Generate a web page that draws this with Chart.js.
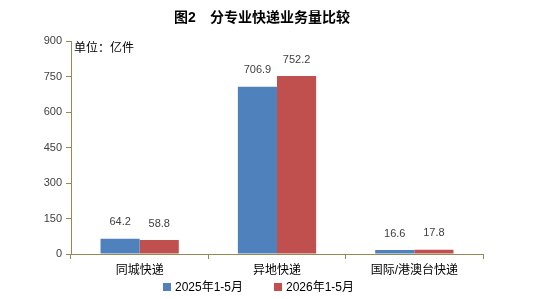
<!DOCTYPE html>
<html>
<head>
<meta charset="utf-8">
<script src="https://cdn.jsdelivr.net/npm/chart.js@4/dist/chart.umd.min.js"></script>
<style>
  html, body { margin: 0; padding: 0; background: #fff; }
  #box { width: 548px; height: 299px; }
</style>
</head>
<body>
<div id="box"><canvas id="grafico"></canvas></div>
<script>
var categorias = ['同城快递', '异地快递', '国际/港澳台快递'];
var serie2025 = [64.2, 706.9, 16.6];
var serie2026 = [58.8, 752.2, 17.8];
var nomes = ['2025年1-5月', '2026年1-5月'];
var cores = ['#4F81BD', '#C0504D'];
var titulo = '图2　分专业快递业务量比较';
var unidade = '单位：亿件';

var fonte = '"Liberation Sans", "Noto Sans CJK SC", sans-serif';
var corEixo = '#948A54';

// titulo, unidade, legenda e valores acima das barras
var rotulos = {
    id: 'rotulos',
    afterDatasetsDraw(chart) {
        var ctx = chart.ctx;
        ctx.save();
        ctx.fillStyle = '#404040';
        ctx.font = '11px ' + fonte;
        ctx.textAlign = 'center';
        ctx.textBaseline = 'bottom';
        chart.data.datasets.forEach((ds, i) => {
            chart.getDatasetMeta(i).data.forEach((bar, j) => {
                ctx.fillText(ds.data[j].toFixed(1), bar.x, bar.y - 11);
            });
        });
        ctx.fillStyle = '#000';
        ctx.font = 'bold 14px ' + fonte;
        ctx.textBaseline = 'middle';
        ctx.fillText(titulo, 262, 18);
        ctx.font = '12px ' + fonte;
        ctx.textAlign = 'left';
        ctx.fillText(unidade, 74, 49);

        // legenda
        var xs = [163, 274];
        nomes.forEach((nome, i) => {
            ctx.fillStyle = cores[i];
            ctx.fillRect(xs[i], 283, 8, 8);
            ctx.fillStyle = '#000';
            ctx.fillText(nome, xs[i] + 12, 288);
        });
        ctx.restore();
    }
};

new Chart(document.querySelector('#grafico'), {
    type: 'bar',
    data: {
        labels: categorias,
        datasets: [
            { label: nomes[0], data: serie2025, backgroundColor: cores[0] },
            { label: nomes[1], data: serie2026, backgroundColor: cores[1] }
        ]
    },
    options: {
        responsive: true,
        maintainAspectRatio: false,
        animation: false,
        layout: { padding: { top: 41, left: 14, right: 65, bottom: 21 } },
        datasets: { bar: { categoryPercentage: 0.57, barPercentage: 1 } },
        plugins: {
            tooltip: { enabled: false },
            legend: { display: false }
        },
        scales: {
            y: {
                min: 0,
                max: 900,
                afterFit(scale) { scale.width = 57; },
                ticks: { stepSize: 150, color: '#404040', font: { size: 11, family: fonte }, padding: 4 },
                grid: { drawOnChartArea: false, tickLength: 5, color: corEixo },
                border: { color: corEixo }
            },
            x: {
                afterFit(scale) { scale.height = 24; },
                ticks: { color: '#000', font: { size: 12, family: fonte }, padding: 4 },
                grid: { drawOnChartArea: false, tickLength: 5, color: corEixo, offset: true },
                border: { color: corEixo }
            }
        }
    },
    plugins: [rotulos]
});
</script>
</body>
</html>
